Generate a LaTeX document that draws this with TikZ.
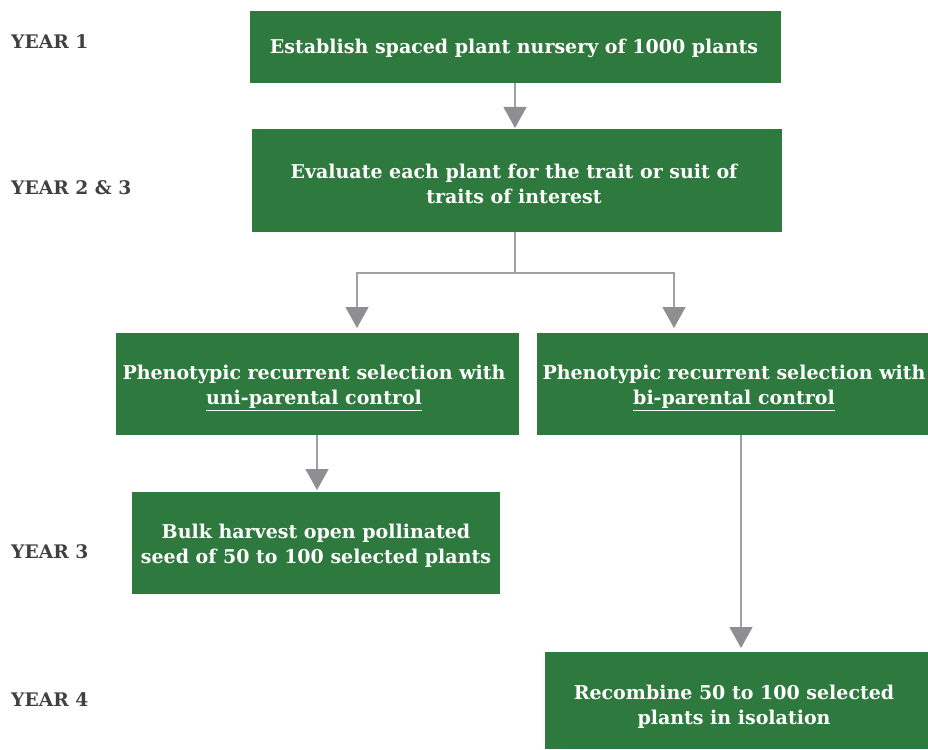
\documentclass[tikz,border=0pt]{standalone}
\usepackage{fontspec}
\setmainfont{DejaVu Serif}
\usetikzlibrary{arrows.meta}
\definecolor{boxgreen}{RGB}{46,121,61}
\definecolor{linegray}{RGB}{160,160,163}
\definecolor{tipgray}{RGB}{142,142,147}
\definecolor{labelgray}{RGB}{64,64,64}
\begin{document}
\begin{tikzpicture}[x=1pt,y=-1pt,
  stepbox/.style={fill=boxgreen, text=white, font=\bfseries\fontsize{19}{25}\selectfont, align=center, inner sep=0pt},
  yearlabel/.style={text=labelgray, font=\bfseries\fontsize{18.7}{20}\selectfont, anchor=west, inner sep=0pt},
  conn/.style={draw=linegray, line width=1.3pt, -{Triangle[width=23pt,length=21pt,fill=tipgray,color=tipgray]}},
  plainconn/.style={draw=linegray, line width=1.3pt}]
\useasboundingbox (0,0) rectangle (928,749);
\path[fill=white] (0,0) rectangle (928,749);
% boxes
\path[stepbox] (250,11) rectangle (781,83);
\node[stepbox] (b1) at (514,48) {Establish spaced plant nursery of 1000 plants};
\path[stepbox] (252,129) rectangle (782,232);
\node[stepbox] (b2) at (514,184) {Evaluate each plant for the trait or suit of\\traits of interest};
\path[stepbox] (116,333) rectangle (519,435);
\node[stepbox] (b3) at (314,388) {Phenotypic recurrent selection with\\\underline{uni-parental control}};
\path[stepbox] (537,333) rectangle (928,435);
\node[stepbox] (b4) at (734,388) {Phenotypic recurrent selection with\\\underline{bi-parental control}};
\path[stepbox] (132,492) rectangle (500,594);
\node[stepbox] (b5) at (316,546) {Bulk harvest open pollinated\\seed of 50 to 100 selected plants};
\path[stepbox] (545,652) rectangle (928,749);
\node[stepbox] (b6) at (734,707) {Recombine 50 to 100 selected\\plants in isolation};
% year labels
\node[yearlabel] (y1) at (11,42) {YEAR 1};
\node[yearlabel] (y2) at (11,188) {YEAR 2 \& 3};
\node[yearlabel] (y3) at (11,552) {YEAR 3};
\node[yearlabel] (y4) at (11,700) {YEAR 4};
% connectors
\coordinate (t1) at (515,83);
\coordinate (t2) at (515,128);
\draw[conn] (t1) -- (t2);
\coordinate (s2) at (515,232);
\coordinate (j2) at (515,273);
\coordinate (la) at (357,273);
\coordinate (ra) at (674,273);
\coordinate (le) at (357,328);
\coordinate (re) at (674,328);
\draw[plainconn] (s2) -- (j2);
\draw[conn] (j2) -- (la) -- (le);
\draw[conn] (j2) -- (ra) -- (re);
\coordinate (s3) at (317,435);
\coordinate (e3) at (317,490);
\draw[conn] (s3) -- (e3);
\coordinate (s4) at (741,435);
\coordinate (e4) at (741,648);
\draw[conn] (s4) -- (e4);
\end{tikzpicture}
\end{document}
